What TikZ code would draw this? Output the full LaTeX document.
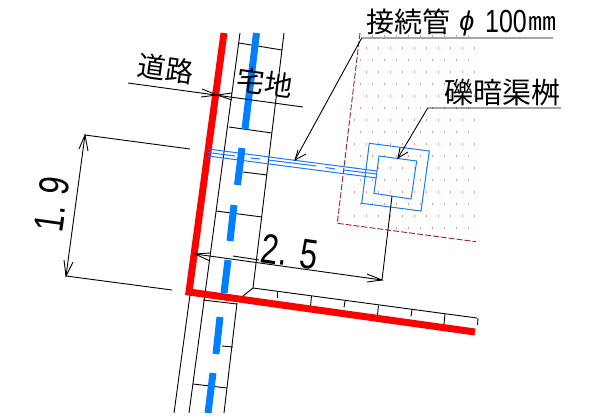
\documentclass[tikz,border=0pt]{standalone}
\usepackage{fontspec}
\setmainfont{Liberation Sans}
\newfontfamily\jp{Noto Sans CJK JP}
\definecolor{rd}{RGB}{255,0,0}
\definecolor{bl}{RGB}{0,128,255}
\definecolor{pipeblue}{RGB}{20,125,245}
\definecolor{dk}{RGB}{160,30,50}
\definecolor{dotc}{RGB}{235,150,150}
\begin{document}
\begin{tikzpicture}[x=1pt,y=-1pt,
  thin line/.style={draw=black,line width=0.9pt},
  wall/.style={draw=rd,line width=7pt},
  gutter/.style={draw=bl,line width=7pt},
  pipe/.style={draw=pipeblue,line width=1pt},
  lbl/.style={inner sep=0pt,anchor=center,font=\jp\fontsize{28}{28}\selectfont,text=black},
  dimnum/.style={inner sep=0pt,anchor=center,text=black,font=\fontsize{42}{42}\selectfont}]
\useasboundingbox (0,0) rectangle (595,416);
% dots
\foreach \r in {0,...,16}{
  \pgfmathsetmacro{\yy}{36.3+12*\r}
  \pgfmathsetmacro{\off}{mod(\r,2)==0 ? 6 : 0}
  \foreach \c in {0,...,10}{
    \pgfmathsetmacro{\xx}{354+\off+12*\c}
    \pgfmathsetmacro{\edge}{360-(\yy-33)*0.1185}
    \pgfmathparse{(\xx>\edge+2 && \xx<476 && \yy<(223.5+(\xx-337.3)*0.135-2))?1:0}
    \ifnum\pgfmathresult=1
      \fill[dotc] (\xx-0.45,\yy-0.9) rectangle (\xx+0.45,\yy+0.9);
    \fi
  }
}
% parcel
\draw[draw=dk,line width=0.9pt,dash pattern=on 6pt off 2pt] (360,33) -- (337.3,223.3) -- (476,241.7);
% road structures
\draw[thin line] (240,33) -- (189,413);
\draw[thin line] (284,33) -- (253,288) -- (243,296);
\draw[thin line] (237,303) -- (224,413);
\draw[thin line] (174,413) -- (190,295) -- (208,163);
\foreach \a/\b/\c/\d in {239/43/282/50, 229/127/272/133, 243/172/267/175, 216/211/262/217, 233/256/259/260, 203/300/237/304, 222/346/233/347, 193/384/227/388}
  \draw[thin line] (\a,\b) -- (\c,\d);
% curb with ticks
\draw[thin line] (253,288) -- (477,318);
\foreach \a/\b/\c/\d in {277/291.5/277/298, 311.5/296/310.5/306, 345/301/344/307.5, 378.5/305.5/377.5/315, 412/310/411/316.5, 445/314/444/324, 478/318/477.5/325}
  \draw[thin line] (\a,\b) -- (\c,\d);
% gutter
\foreach \a/\b/\c/\d in {256.5/33/245/129, 242/148/237.5/185, 234/205/230/241, 228/260/224/293, 220/317/216/354, 213/373/208/413}
  \draw[gutter] (\a,\b) -- (\c,\d);
% wall
\draw[wall,line join=miter] (224,33) -- (189,292) -- (475,332);
% pipe
\draw[pipe] (208,149) -- (377,171);
\draw[pipe] (208,156) -- (377,178);
\draw[pipe] (208,152.5) -- (235,156);
\draw[pipe] (250.5,158) -- (260,159);
\draw[pipe] (268,160) -- (316.5,166);
\draw[pipe] (325.5,167.5) -- (335,169);
\draw[pipe] (343,170) -- (377,174);
% catch basin
\draw[pipe] (369.3,143.3) -- (429.3,151) -- (421,211) -- (361.7,203.3) -- cycle;
\draw[pipe] (379,156) -- (416.7,161) -- (411,199) -- (374,193.3) -- cycle;
% dimension 1.9
\draw[thin line] (190,149) -- (85,135) -- (66,276) -- (172,290);
\draw[thin line] (79,149) -- (85,135) -- (88,151);
\draw[thin line] (64,260) -- (66,276) -- (73,262);
% dimension 2.5
\draw[thin line] (392,196) -- (382,280) -- (195,254);
\draw[thin line] (210,261) -- (195,254) -- (210,253);
\draw[thin line] (367,274) -- (382,280) -- (367,282);
% road/site dimension
\draw[thin line] (128,83) -- (303,107);
\draw[thin line] (202,89) -- (217,95) -- (201,97);
\draw[thin line] (232,93) -- (217,95) -- (232,100);
% leaders
\coordinate (pipeTip) at (295,160);
\coordinate (boxTip) at (398,158);
\draw[thin line] (553,38) -- (361.7,38) -- (pipeTip);
\draw[thin line] (561,108) -- (427.7,108) -- (boxTip);
\draw[thin line] (298,150) -- (pipeTip) -- (306,154);
\draw[thin line] (400,148) -- (boxTip) -- (408,152);
% labels
\node[lbl,rotate=-8] (road) at (166,69) {道路};
\node[lbl,rotate=-8] (site) at (265,82.5) {宅地};
\node[lbl,anchor=west] (pipeName) at (366,21.5) {接続管};
\node[inner sep=0pt,anchor=center,font=\fontsize{27}{27}\selectfont\itshape] (phi) at (467,24) {ϕ};
\node[inner sep=0pt,anchor=center,font=\fontsize{32}{32}\selectfont] (pipeSize) at (506,21) {\scalebox{0.78}[1]{100}};
\node[inner sep=0pt,anchor=center,font=\jp\fontsize{28}{28}\selectfont] (pipeUnit) at (542,23) {\scalebox{1}[0.9]{㎜}};
\node[lbl,font=\jp\fontsize{29}{29}\selectfont] (boxName) at (502,93) {礫暗渠桝};
\node[dimnum,rotate=82] (dimA) at (52,204) {\scalebox{0.75}[1]{1.\hspace{0.36em}9}};
\node[dimnum,rotate=-8] (dimB) at (290,252) {\scalebox{0.75}[1]{2.\hspace{0.42em}5}};
\end{tikzpicture}
\end{document}
